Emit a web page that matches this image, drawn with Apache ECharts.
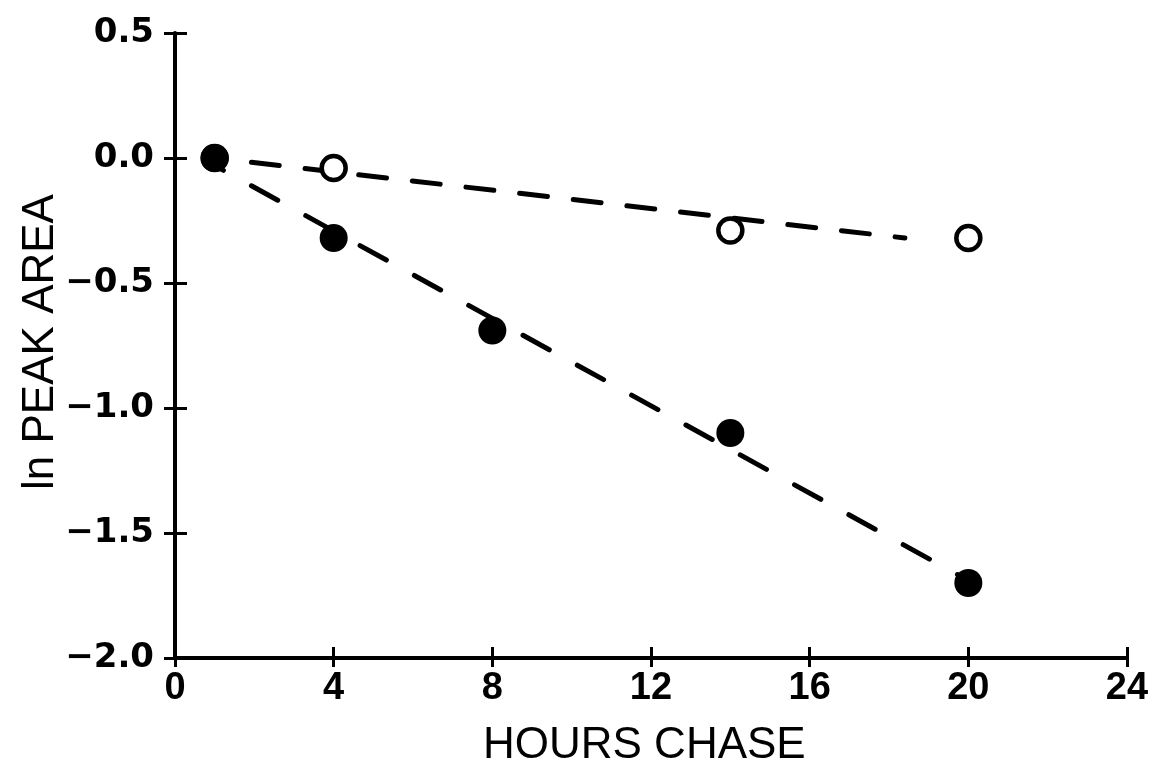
<!DOCTYPE html>
<html>
<head>
<meta charset="utf-8">
<script src="https://cdn.jsdelivr.net/npm/echarts@6/dist/echarts.min.js"></script>
<style>
html,body{margin:0;padding:0;background:#fff;}
#chart{width:1160px;height:782px;}
</style>
</head>
<body>
<div id="chart"></div>
<script>
// ---- data ----
const hours = [1, 4, 8, 14, 20];
const filledValues = [0.0, -0.32, -0.69, -1.10, -1.70];
const openValues = [0.0, -0.04, null, -0.29, -0.32];
const openFitX = [1, 18.4];
const openFitY = [0.0, -0.32];
const filledFitX = [1, 20];
const filledFitY = [-0.03, -1.69];
const xTickValues = [0, 4, 8, 12, 16, 20, 24];
const xTickLabels = ['0', '4', '8', '12', '16', '20', '24'];
const yTickValues = [-2.0, -1.5, -1.0, -0.5, 0.0, 0.5];
const yTickLabels = ['\u22122.0', '\u22121.5', '\u22121.0', '\u22120.5', '0.0', '0.5'];
const xTitle = 'HOURS CHASE';
const yTitle = 'ln PEAK AREA';

function pairs(xs, ys) {
  const out = [];
  for (let i = 0; i < xs.length; i++) if (ys[i] !== null) out.push([xs[i], ys[i]]);
  return out;
}
function lookup(vals, labels) {
  return function (v) {
    for (let i = 0; i < vals.length; i++) if (Math.abs(vals[i] - v) < 1e-9) return labels[i];
    return '';
  };
}

const chart = echarts.init(document.getElementById('chart'), null, {renderer: 'canvas'});
const gridBox = {left: 175, right: 33, top: 33, bottom: 124};
const black = '#000';

const option = {
  animation: false,
  backgroundColor: '#fff',
  grid: [Object.assign({}, gridBox), Object.assign({}, gridBox)],
  xAxis: [
    {
      gridIndex: 0, type: 'value', min: 0, max: 24, interval: 4,
      axisLine: {show: true, onZero: false, lineStyle: {color: black, width: 4}},
      axisTick: {show: true, inside: false, length: 9, lineStyle: {color: black, width: 3}},
      axisLabel: {show: true, margin: 12, color: black, fontFamily: 'Liberation Sans', fontWeight: 'bold', fontSize: 38,
                  formatter: lookup(xTickValues, xTickLabels)},
      splitLine: {show: false}
    },
    {
      gridIndex: 1, type: 'value', min: 0, max: 24, interval: 4, position: 'bottom',
      axisLine: {show: true, onZero: false, lineStyle: {color: 'rgba(0,0,0,0)', width: 1}},
      axisTick: {show: true, inside: true, length: 11, lineStyle: {color: black, width: 3}},
      axisLabel: {show: false},
      splitLine: {show: false}
    }
  ],
  yAxis: [
    {
      gridIndex: 0, type: 'value', min: -2.0, max: 0.5, interval: 0.5,
      axisLine: {show: true, onZero: false, lineStyle: {color: black, width: 4}},
      axisTick: {show: true, inside: false, length: 11, lineStyle: {color: black, width: 3}},
      axisLabel: {show: true, margin: 21, color: black, fontFamily: 'DejaVu Sans', fontWeight: 'bold', fontSize: 34,
                  formatter: lookup(yTickValues, yTickLabels)},
      splitLine: {show: false}
    },
    {
      gridIndex: 1, type: 'value', min: -2.0, max: 0.5, interval: 0.5, position: 'left',
      axisLine: {show: true, onZero: false, lineStyle: {color: 'rgba(0,0,0,0)', width: 1}},
      axisTick: {show: true, inside: true, length: 12, lineStyle: {color: black, width: 3}},
      axisLabel: {show: false},
      splitLine: {show: false}
    }
  ],
  graphic: [
    {
      type: 'text', left: 643 - 160, top: 724,
      style: {text: xTitle, font: '44px "Liberation Sans"', fill: black, width: 320, align: 'center'}
    },
    {
      type: 'text', x: 19, y: 342, rotation: Math.PI / 2,
      style: {text: yTitle, font: '44px "Liberation Sans"', fill: black, align: 'center', verticalAlign: 'top'}
    }
  ],
  series: [
    {
      type: 'line', xAxisIndex: 0, yAxisIndex: 0, data: pairs(openFitX, openFitY),
      symbol: 'none', z: 2, silent: true,
      lineStyle: {color: black, width: 5, type: [28, 26], dashOffset: 17, cap: 'round'}
    },
    {
      type: 'line', xAxisIndex: 0, yAxisIndex: 0, data: pairs(filledFitX, filledFitY),
      symbol: 'none', z: 2, silent: true,
      lineStyle: {color: black, width: 5, type: [30, 32], dashOffset: 20, cap: 'round'}
    },
    {
      type: 'scatter', xAxisIndex: 0, yAxisIndex: 0, data: pairs(hours, openValues),
      symbol: 'circle', symbolSize: 24, z: 3,
      itemStyle: {color: '#fff', borderColor: black, borderWidth: 4.5, opacity: 1}
    },
    {
      type: 'scatter', xAxisIndex: 0, yAxisIndex: 0, data: pairs(hours, filledValues),
      symbol: 'circle', symbolSize: 28, z: 4,
      itemStyle: {color: black, opacity: 1}
    }
  ]
};
chart.setOption(option);
</script>
</body>
</html>
